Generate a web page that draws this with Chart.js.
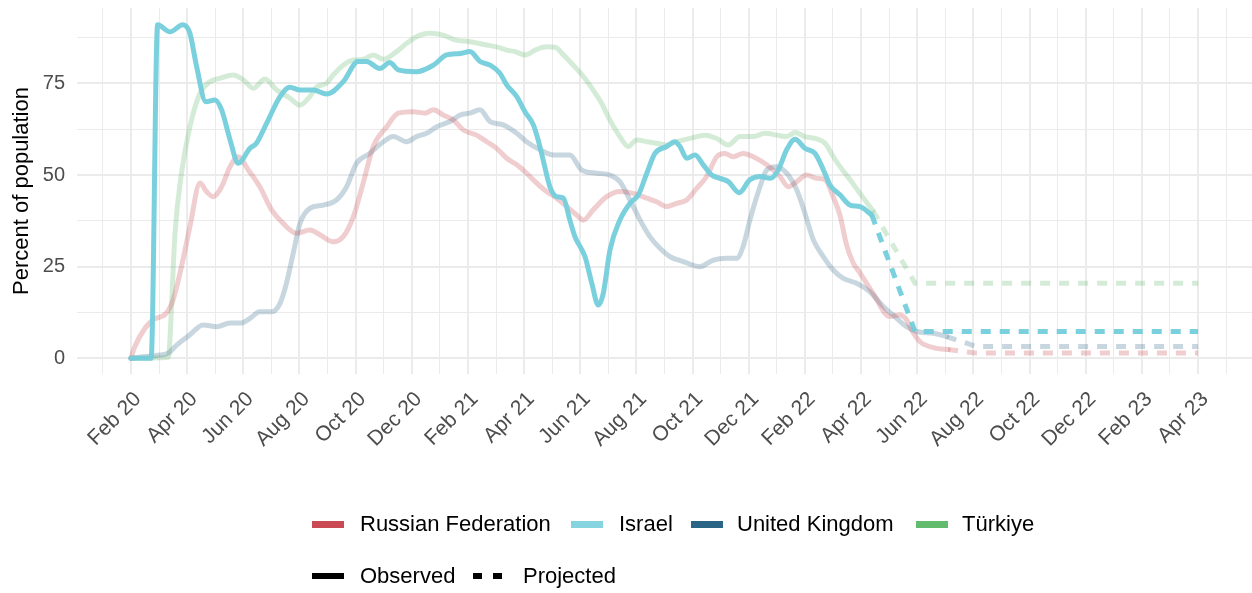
<!DOCTYPE html>
<html>
<head>
<meta charset="utf-8">
<script src="https://cdn.jsdelivr.net/npm/chart.js@4.4.1/dist/chart.umd.min.js"></script>
<style>
  html, body { margin: 0; padding: 0; background: #ffffff; }
  #wrap { position: relative; width: 1252px; height: 593px; font-family: "Liberation Sans", Arial, sans-serif; }
  #chart { position: absolute; left: 0; top: 0; }
  .sw { position: absolute; }
  .lt { position: absolute; font-size: 22px; line-height: 26px; height: 26px; color: #000; white-space: nowrap; }
</style>
</head>
<body>
<div id="wrap">
  <canvas id="chart" width="1252" height="593"></canvas>
  <div id="legend"></div>
</div>
<script>
// ---- Data (x = months since Feb 2020, y = percent of population) ----
const tickLabels = ['Feb 20','Apr 20','Jun 20','Aug 20','Oct 20','Dec 20','Feb 21','Apr 21','Jun 21','Aug 21',
  'Oct 21','Dec 21','Feb 22','Apr 22','Jun 22','Aug 22','Oct 22','Dec 22','Feb 23','Apr 23'];

const seriesNames = ['Russian Federation', 'Israel', 'United Kingdom', 'Türkiye'];

const rusX = [0,0.14,0.5,0.79,1.26,1.5,1.8,2.1,2.46,2.69,2.93,3.23,3.53,3.82,4.18,4.59,5.01,5.42,5.9,6.37,6.73,7.2,7.56,7.92,8.27,8.63,9.11,9.52,10.05,10.47,10.77,11.12,11.48,11.84,12.31,12.67,13.02,13.38,13.74,14.09,14.45,14.8,15.16,15.52,15.87,16.11,16.46,16.94,17.41,17.89,18.37,18.72,19.08,19.43,19.79,20.15,20.5,20.86,21.15,21.45,21.8,22.16,22.64,23.11,23.41,23.71,24.06,24.42,24.72,25.01,25.25,25.48,25.72,25.96,26.42,27.02,27.38,27.62,27.8,28.1,28.69,29.1];
const rusY = [0,3.2,8.2,10.5,12.3,15.9,25,35.9,47.8,45.5,44.1,46.8,52.3,55,51.4,46.8,40.5,36.8,34.1,35,33.7,31.8,33.2,38.6,47.8,57.8,63.2,66.9,67.3,66.9,67.8,66.4,65,62.3,60.9,59.1,57.3,54.6,52.8,50.5,47.8,45.5,43.7,41.4,39.1,37.7,40.5,44.1,45.5,45,43.7,42.7,41.4,42.3,43.2,46.4,49.6,55,55.9,55,55.9,55,52.8,49.6,46.8,48.2,50,49.1,48.7,44,39,31,26,23.3,17.8,11.4,11.8,10.5,7.7,4.5,2.7,2.4];
const rusProjX = [29.1,30.1,38];
const rusProjY = [2.4,1.4,1.4];

const isrX = [0,0.72,0.95,1.39,1.85,2.1,2.34,2.67,2.99,3.23,3.53,3.82,4.24,4.47,4.83,5.31,5.66,6.02,6.49,6.97,7.56,8.09,8.39,8.86,9.22,9.52,10.17,10.77,11.24,11.72,12.07,12.43,12.79,13.14,13.38,13.74,14.03,14.33,14.5,14.68,14.92,15.16,15.4,15.63,15.81,16.17,16.41,16.64,16.82,17.06,17.41,17.77,18.07,18.37,18.66,19.08,19.37,19.55,19.79,20.09,20.38,20.68,20.98,21.27,21.66,22.04,22.4,22.76,23.05,23.35,23.65,24.0,24.36,24.66,24.89,25.25,25.61,25.96,26.38];
const isrY = [0,0,91,89.1,91,88.7,79.6,70,70.5,67.8,59.6,53.2,57.3,58.7,64.1,71.4,74,73.2,73.2,72.1,75.5,81,81,79.1,80.7,78.7,78.2,80,82.8,83.2,83.7,81,80,77.8,74.6,71.4,67.3,63.7,59.6,54.1,46.8,44.1,43.7,37.7,33.2,27.7,20.5,14.5,17.7,29.6,37.7,42.3,44.6,50.5,55.9,57.8,59.1,57.8,54.6,55.5,52.8,50,49.1,48.2,45.2,48.7,49.6,49.1,51.4,56.9,59.8,57.3,55.9,51.4,47.3,44.6,41.8,41.4,39.1];
const isrProjX = [26.38,27.92,38];
const isrProjY = [39.1,7.3,7.3];

const gbrX = [0,0.44,1.03,1.33,1.63,2.1,2.57,3.05,3.53,3.94,4.24,4.59,5.01,5.31,5.54,5.78,6.02,6.37,6.85,7.32,7.68,8.03,8.5,8.99,9.34,9.82,10.17,10.53,10.89,11.36,11.72,12.07,12.43,12.79,13.26,13.74,14.09,14.57,15.04,15.63,16.05,16.58,17.06,17.41,17.77,18.13,18.48,18.84,19.2,19.67,20.26,20.74,21.21,21.57,21.8,22.04,22.4,22.64,23.0,23.35,23.71,24.0,24.3,24.66,25.01,25.37,25.84,26.31,26.79,27.14,27.62,27.98,28.58,29.05];
const gbrY = [0,0.4,0.9,1.4,3.6,6.4,9.1,8.6,9.6,9.6,10.9,12.7,12.7,15,20.5,28.7,36.8,40.9,41.8,43.2,46.8,53.2,55.9,59.1,60.5,59.1,60.5,61.4,63.2,64.6,66.4,66.9,67.8,64.6,63.7,61.4,59.1,56.9,55.5,55.5,51.4,50.5,50,48.2,43.2,37.7,33.2,30,27.7,26.4,25,26.8,27.3,27.3,30.5,37.7,46.8,51.4,52.3,50.5,45.9,39.6,32.3,27.7,24.1,21.8,20.5,18.2,14.1,11.8,8.6,7.3,6.8,5.9];
const gbrProjX = [29.05,29.76,30.1,38];
const gbrProjY = [5.9,4.1,3.2,3.2];

const turX = [0,1.33,1.36,1.57,1.8,2.1,2.46,2.81,3.17,3.64,4.0,4.36,4.77,5.19,5.66,6.02,6.37,6.61,6.97,7.2,7.56,7.92,8.27,8.63,8.99,9.46,9.82,10.29,10.65,11.12,11.54,12.07,12.67,13.02,13.38,13.68,14.03,14.45,14.8,15.1,15.4,15.75,16.11,16.46,16.76,17.06,17.41,17.71,18.01,18.37,18.72,19.08,19.43,19.91,20.44,20.86,21.27,21.69,22.16,22.58,23.0,23.35,23.65,24.0,24.36,24.72,25.01,25.25,25.61,25.96,26.42];
const turY = [0,0.3,1.5,34.1,50.5,63.2,72.3,75.5,76.4,77.3,76,73.7,76.2,73.2,71,69.1,71.4,74,75.1,77.3,80,81.4,81.6,82.8,81.6,83.7,86,88.2,88.7,88.2,86.9,86.4,85.5,85,84.1,83.7,82.8,84.3,85,84.9,82.8,80,76.9,73.2,69.6,65,60.5,57.8,59.6,59.1,58.7,58.2,59.1,60,60.9,60,58.2,60.5,60.5,61.4,60.9,60.5,61.6,60.5,60,58.7,55,52.3,48.7,45,40.3];
const turProjX = [26.42,27.92,38];
const turProjY = [40.3,20.5,20.5];

const yTicks = [0, 12.5, 25, 37.5, 50, 62.5, 75, 87.5];
const xGridMonths = Array.from({length: 41}, (_, i) => i - 1);

// ---- styling ----
const legendColors = ['#c94a53', '#86d4df', '#2b6585', '#63bb6e'];
const lineColors = ['rgba(201,74,83,0.28)', 'rgba(116,206,219,0.95)', 'rgba(43,101,133,0.26)', 'rgba(99,187,110,0.28)'];

function pts(xs, ys) { return xs.map((x, i) => ({x: x, y: ys[i]})); }

const obs = [[rusX, rusY], [isrX, isrY], [gbrX, gbrY], [turX, turY]];
const proj = [[rusProjX, rusProjY], [isrProjX, isrProjY], [gbrProjX, gbrProjY], [turProjX, turProjY]];

const datasets = [];
seriesNames.forEach((name, i) => {
  datasets.push({
    label: name + ' (observed)',
    data: pts(obs[i][0], obs[i][1]),
    borderColor: lineColors[i],
    borderWidth: 5,
    pointRadius: 0,
    cubicInterpolationMode: 'monotone',
    borderCapStyle: 'round',
    borderJoinStyle: 'round',
    fill: false,
    order: i === 1 ? 0 : i + 2
  });
  datasets.push({
    label: name + ' (projected)',
    data: pts(proj[i][0], proj[i][1]),
    borderColor: lineColors[i],
    borderWidth: 5,
    borderDash: [10, 9],
    pointRadius: 0,
    tension: 0,
    borderCapStyle: 'butt',
    fill: false,
    order: i === 1 ? 1 : i + 6
  });
});

Chart.defaults.font.family = '"Liberation Sans", Arial, sans-serif';

new Chart(document.getElementById('chart'), {
  type: 'line',
  data: { datasets: datasets },
  options: {
    responsive: false,
    animation: false,
    layout: { padding: { left: 0, right: 0, top: 8, bottom: 119 } },
    plugins: { legend: { display: false }, tooltip: { enabled: false } },
    scales: {
      x: {
        type: 'linear',
        min: -1.92,
        max: 39.92,
        afterBuildTicks: (s) => { s.ticks = xGridMonths.map(v => ({value: v})); },
        afterFit: (s) => { s.height = 100; s.paddingLeft = 0; s.paddingRight = 0; },
        grid: {
          color: '#ebebeb',
          lineWidth: (c) => (c.tick && c.tick.value % 2 === 0) ? 2 : 1,
          drawTicks: false
        },
        border: { display: false },
        ticks: {
          autoSkip: false,
          maxRotation: 45,
          minRotation: 45,
          padding: 13,
          labelOffset: 7,
          color: '#4d4d4d',
          font: { size: 21 },
          callback: (v) => (v >= 0 && v <= 38 && v % 2 === 0) ? tickLabels[v / 2] : ''
        }
      },
      y: {
        type: 'linear',
        min: -4.3,
        max: 95.6,
        afterBuildTicks: (s) => { s.ticks = yTicks.map(v => ({value: v})); },
        afterFit: (s) => { s.width = 77; s.paddingTop = 0; s.paddingBottom = 0; },
        grid: {
          color: '#ebebeb',
          lineWidth: (c) => (c.tick && c.tick.value % 25 === 0) ? 2 : 1,
          drawTicks: false
        },
        border: { display: false },
        title: {
          display: true,
          text: 'Percent of population',
          color: '#000000',
          font: { size: 22 },
          padding: { top: 9, bottom: 0 }
        },
        ticks: {
          padding: 12,
          color: '#4d4d4d',
          font: { size: 20 },
          callback: (v) => (v % 25 === 0) ? String(v) : ''
        }
      }
    }
  }
});

// ---- legend (HTML, below the chart) ----
const legend = document.getElementById('legend');
function addSwatch(left, cy, w, h, color) {
  const d = document.createElement('div');
  d.className = 'sw';
  d.style.left = left + 'px'; d.style.top = (cy - h / 2) + 'px';
  d.style.width = w + 'px'; d.style.height = h + 'px';
  d.style.background = color;
  legend.appendChild(d);
}
function addText(left, cy, text) {
  const d = document.createElement('div');
  d.className = 'lt';
  d.style.left = left + 'px'; d.style.top = (cy - 13) + 'px';
  d.textContent = text;
  legend.appendChild(d);
}
const row1Swatch = [312, 571, 691, 916];
const row1Text = [360, 619, 737, 962];
seriesNames.forEach((n, i) => {
  addSwatch(row1Swatch[i], 524, 32, 7, legendColors[i]);
  addText(row1Text[i], 524, n);
});
addSwatch(312, 576, 32, 6, '#000');
addText(360, 576, 'Observed');
addSwatch(473, 576, 9, 6, '#000');
addSwatch(493, 576, 9, 6, '#000');
addText(523, 576, 'Projected');
</script>
</body>
</html>
